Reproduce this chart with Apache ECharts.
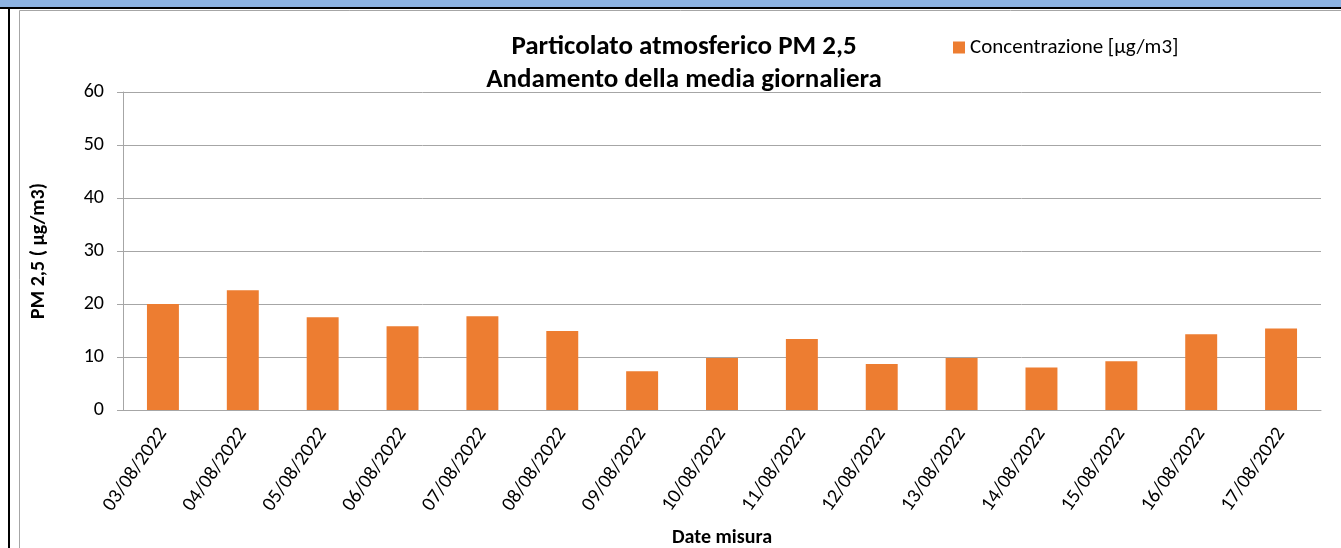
<!DOCTYPE html>
<html>
<head>
<meta charset="utf-8">
<script src="https://cdn.jsdelivr.net/npm/echarts@6/dist/echarts.min.js"></script>
<style>
  html, body { margin: 0; padding: 0; background: #fff; }
  #chart { width: 1341px; height: 548px; }
</style>
</head>
<body>
<div id="chart"></div>
<script>
const dates = ['03/08/2022', '04/08/2022', '05/08/2022', '06/08/2022', '07/08/2022',
  '08/08/2022', '09/08/2022', '10/08/2022', '11/08/2022', '12/08/2022',
  '13/08/2022', '14/08/2022', '15/08/2022', '16/08/2022', '17/08/2022'];
const concentrazione = [20.0, 22.6, 17.5, 15.8, 17.7, 14.9, 7.3, 9.8, 13.4, 8.7, 9.8, 8.0, 9.2, 14.3, 15.4];
const yTicks = [0, 10, 20, 30, 40, 50, 60];

const font = 'Calibri, Carlito, Lato, sans-serif';

const chart = echarts.init(document.getElementById('chart'));
let option = {
  animation: false,
  textStyle: { fontFamily: font },
  /* cornice e fascia in alto */
  graphic: [
    { type: 'rect', shape: { x: 0, y: 0, width: 1341, height: 8 }, style: { fill: '#8DB3E2' } },
    { type: 'rect', shape: { x: 0, y: 7, width: 1341, height: 2 }, style: { fill: '#000' } },
    { type: 'rect', shape: { x: 8, y: 8, width: 2, height: 540 }, style: { fill: '#000' } },
    { type: 'line', shape: { x1: 19.5, y1: 10.5, x2: 19.5, y2: 548 }, style: { stroke: '#A6A6A6', lineWidth: 1 } },
    { type: 'line', shape: { x1: 19.5, y1: 10.5, x2: 1341, y2: 10.5 }, style: { stroke: '#A6A6A6', lineWidth: 1 } }
  ],
  title: {
    text: 'Particolato atmosferico PM 2,5\nAndamento della media giornaliera',
    left: 684,
    textAlign: 'center',
    top: 31,
    padding: 0,
    textStyle: { fontFamily: font, fontSize: 27, fontWeight: 'bold', color: '#000', lineHeight: 33 }
  },
  legend: {
    left: 953,
    top: 37,
    padding: 0,
    itemWidth: 12,
    itemHeight: 12,
    itemGap: 6,
    icon: 'rect',
    textStyle: { fontFamily: font, fontSize: 21, color: '#000' },
    data: ['Concentrazione [µg/m3]']
  },
  grid: {
    left: 123,
    right: 20,
    top: 92,
    bottom: 138,
    outerBoundsMode: 'none'
  },
  xAxis: {
    type: 'category',
    data: dates,
    name: 'Date misura',
    nameLocation: 'middle',
    nameGap: 118,
    nameTextStyle: { fontFamily: font, fontSize: 20, fontWeight: 'bold', color: '#000' },
    axisLine: { lineStyle: { color: '#A6A6A6' } },
    axisTick: { length: 6, lineStyle: { color: '#A6A6A6' } },
    axisLabel: { rotate: 55, fontSize: 20, color: '#000', margin: 20, fontFamily: font }
  },
  yAxis: {
    type: 'value',
    min: yTicks[0],
    max: yTicks[yTicks.length - 1],
    interval: 10,
    name: 'PM 2,5 ( µg/m3)',
    nameLocation: 'middle',
    nameGap: 74,
    nameTextStyle: { fontFamily: font, fontSize: 20, fontWeight: 'bold', color: '#000' },
    axisLine: { show: true, lineStyle: { color: '#A6A6A6' } },
    axisTick: { show: true, length: 6, lineStyle: { color: '#A6A6A6' } },
    splitLine: { lineStyle: { color: '#A6A6A6' } },
    axisLabel: { fontSize: 20, color: '#000', margin: 19, fontFamily: font }
  },
  series: [
    {
      name: 'Concentrazione [µg/m3]',
      type: 'bar',
      data: concentrazione,
      barWidth: '40%',
      itemStyle: { color: '#ED7D31' }
    }
  ]
};
option && chart.setOption(option);
</script>
</body>
</html>
